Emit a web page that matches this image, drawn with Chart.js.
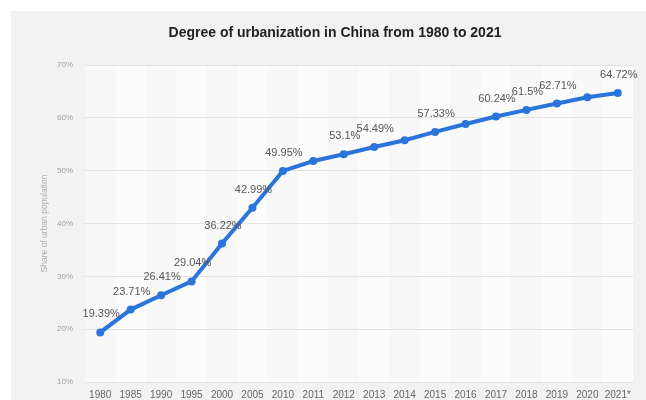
<!DOCTYPE html>
<html>
<head>
<meta charset="utf-8">
<script src="https://cdn.jsdelivr.net/npm/chart.js@4"></script>
<style>
  html, body { margin: 0; padding: 0; background: #ffffff; }
  #wrap { width: 646px; height: 400px; }
</style>
</head>
<body>
<div id="wrap"><canvas id="chart" width="646" height="400"></canvas></div>
<script>
// data
var years = ["1980", "1985", "1990", "1995", "2000", "2005", "2010", "2011", "2012",
             "2013", "2014", "2015", "2016", "2017", "2018", "2019", "2020", "2021*"];
var urbanShare = [19.39, 23.71, 26.41, 29.04, 36.22, 42.99, 49.95, 51.83, 53.1,
                  54.49, 55.75, 57.33, 58.84, 60.24, 61.5, 62.71, 63.89, 64.72];
// which points carry a value label
var showLabel = [true, true, true, true, true, true, true, false, true,
                 true, false, true, false, true, true, true, false, true];
var yTicks = [10, 20, 30, 40, 50, 60, 70];

var chartTitle = "Degree of urbanization in China from 1980 to 2021";
var yTitle = "Share of urban population";

var lineBlue = "#2a74dc";

//Grey panel, column stripes and the title
var backdrop = {
    id: "backdrop",
    beforeDraw: function(chart) {
        var ctx = chart.ctx;
        var area = chart.chartArea;
        var x = chart.scales.x;
        ctx.save();
        ctx.fillStyle = "#f3f2f3";
        ctx.fillRect(11, 11, chart.width - 11, chart.height - 11);

        var step = x.getPixelForValue(1) - x.getPixelForValue(0);
        for (var i = 0; i < years.length; i++) {
            var cx = x.getPixelForValue(i);
            ctx.fillStyle = (i % 2 == 0) ? "#f8f8f9" : "#fcfcfc";
            ctx.fillRect(cx - step / 2, area.top, step, area.bottom - area.top);
        }

        ctx.fillStyle = "#222222";
        ctx.font = "bold 14px 'Liberation Sans', Arial, sans-serif";
        ctx.textAlign = "center";
        ctx.textBaseline = "middle";
        ctx.fillText(chartTitle, 335, 33);
        ctx.restore();
    }
};

//Value labels above the points
var valueLabels = {
    id: "valueLabels",
    afterDatasetsDraw: function(chart) {
        var ctx = chart.ctx;
        var meta = chart.getDatasetMeta(0);
        ctx.save();
        ctx.fillStyle = "#555555";
        ctx.font = "11px 'Liberation Sans', Arial, sans-serif";
        ctx.textAlign = "center";
        ctx.textBaseline = "middle";
        meta.data.forEach(function(pt, i) {
            if (!showLabel[i]) return;
            ctx.fillText(urbanShare[i] + "%", pt.x + 1, pt.y - 18);
        });
        ctx.restore();
    }
};

new Chart(document.getElementById("chart"), {
    type: "line",
    data: {
        labels: years,
        datasets: [{
            data: urbanShare,
            borderColor: lineBlue,
            backgroundColor: lineBlue,
            borderWidth: 4,
            pointRadius: 4,
            pointHoverRadius: 4,
            pointBackgroundColor: lineBlue,
            pointBorderWidth: 0,
            tension: 0
        }]
    },
    options: {
        responsive: false,
        animation: false,
        layout: {
            padding: { left: 40, right: 13, top: 65, bottom: 0 }
        },
        plugins: {
            legend: { display: false },
            tooltip: { enabled: false },
            title: { display: false }
        },
        scales: {
            x: {
                offset: true,
                grid: { display: false, drawTicks: false },
                border: { display: false },
                ticks: {
                    color: "#666666",
                    font: { size: 10, family: "'Liberation Sans', Arial, sans-serif" },
                    padding: 7,
                    maxRotation: 0,
                    autoSkip: false
                },
                afterFit: function(scale) { scale.height = 18; }
            },
            y: {
                min: 10,
                max: 70,
                afterBuildTicks: function(scale) {
                    scale.ticks = yTicks.map(function(v) { return { value: v }; });
                },
                grid: { color: "#e3e3e3", lineWidth: 1, drawTicks: false },
                border: { display: false },
                ticks: {
                    color: "#a0a0a0",
                    font: { size: 8, family: "'Liberation Sans', Arial, sans-serif" },
                    padding: 12,
                    callback: function(v) { return v + "%"; }
                },
                title: {
                    display: true,
                    text: yTitle,
                    color: "#b0b0b0",
                    font: { size: 8.5, family: "'Liberation Sans', Arial, sans-serif" },
                    padding: 0
                },
                afterFit: function(scale) { scale.width = 45; }
            }
        }
    },
    plugins: [backdrop, valueLabels]
});
</script>
</body>
</html>
